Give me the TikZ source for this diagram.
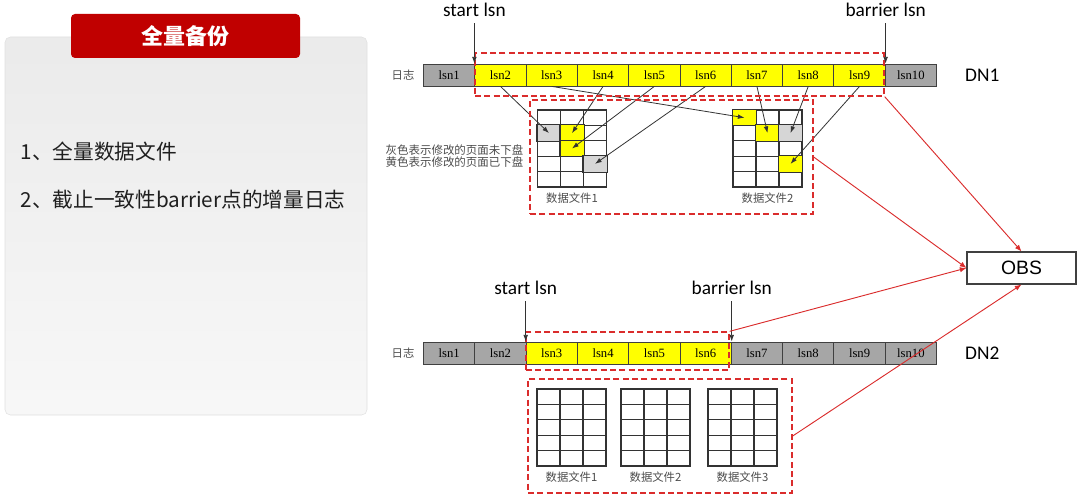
\documentclass[tikz,border=0pt]{standalone}
\usepackage{fontspec}
\setmainfont{Carlito}
\newfontfamily\cjk{Noto Sans CJK SC}
\newfontfamily\lsnfont{Liberation Serif}
\newfontfamily\obsfont{Liberation Sans}
\usetikzlibrary{positioning, arrows.meta, fit, calc}
\definecolor{TitleRed}{HTML}{C00000}
\definecolor{SelRed}{HTML}{DA2C2C}
\definecolor{LogGray}{HTML}{A6A6A6}
\definecolor{PageGray}{HTML}{D6D6D6}
\definecolor{LogYellow}{HTML}{FFFF00}

\begin{document}
\begin{tikzpicture}[x=0.75pt, y=-0.75pt,
  lsncell/.style={draw=black!75, line width=0.6pt, minimum width=38.5pt, minimum height=16.5pt,
    inner sep=0pt, font=\lsnfont\fontsize{9.5}{10}\selectfont},
  pagecell/.style={draw=black!80, line width=0.8pt, fill=white, minimum width=17.25pt,
    minimum height=11.55pt, inner sep=0pt},
  selbox/.style={draw=SelRed, line width=1pt, dash pattern=on 4.5pt off 2.5pt, inner sep=0pt},
  toobs/.style={draw=SelRed, line width=0.7pt, -{Latex[length=5pt, width=4pt]}},
  tocell/.style={draw=black!80, line width=0.6pt, -{Latex[length=5pt, width=3.5pt]}},
  tagtext/.style={font=\fontsize{14.5}{16}\selectfont, inner sep=1pt},
  smallcjk/.style={font=\cjk\fontsize{8.5}{9.5}\selectfont, text=black!70},
]
\useasboundingbox (0,0) rectangle (1080,495);

% 左侧说明
\draw[rounded corners=4pt, top color=black!8, bottom color=black!3, draw=black!12]
  (5,37) rectangle (367,415);
\node[fill=TitleRed, rounded corners=3pt, minimum width=171.75pt, minimum height=33pt,
  text=white, font=\cjk\bfseries\fontsize{16.5}{18}\selectfont] (title) at (185.5,36) {全量备份};
\node[anchor=west, font=\cjk\fontsize{15.5}{17}\selectfont, text=black!88] (item1) at (16,152)
  {1、全量数据文件};
\node[anchor=west, font=\cjk\fontsize{15.5}{17}\selectfont, text=black!88] (item2) at (16,200)
  {2、截止一致性barrier点的增量日志};

% DN1 日志
\foreach \i/\c in {1/LogGray, 2/LogYellow, 3/LogYellow, 4/LogYellow, 5/LogYellow,
                   6/LogYellow, 7/LogYellow, 8/LogYellow, 9/LogYellow, 10/LogGray}
  \node[lsncell, fill=\c] (t\i) at ({423.5+(\i-0.5)*51.3},75) {lsn\i};
\node[smallcjk, left=3pt of t1] (tlog) {日志};
\node[tagtext, right=20pt of t10] (dn1) {DN1};

% DN2 日志
\foreach \i/\c in {1/LogGray, 2/LogGray, 3/LogYellow, 4/LogYellow, 5/LogYellow,
                   6/LogYellow, 7/LogGray, 8/LogGray, 9/LogGray, 10/LogGray}
  \node[lsncell, fill=\c] (b\i) at ({423.5+(\i-0.5)*51.3},353) {lsn\i};
\node[smallcjk, left=3pt of b1] (blog) {日志};
\node[tagtext, right=20pt of b10] (dn2) {DN2};

% 数据文件页面
\foreach \g/\gx/\gy in {a/537.5/110, b/733/110, c/537/389, d/621/389, e/708/389}
  \foreach \c in {0,1,2}
    \foreach \r in {0,...,4}
      \node[pagecell] (\g-\c-\r) at ({\gx+(\c+0.5)*23},{\gy+(\r+0.5)*15.4}) {};
\foreach \n/\c in {a-0-1/PageGray, a-1-1/LogYellow, a-1-2/LogYellow, a-2-3/PageGray,
                   b-0-0/LogYellow, b-1-1/LogYellow, b-2-1/PageGray, b-2-3/LogYellow}
  \filldraw[fill=\c, draw=black!80, line width=0.8pt] (\n.south west) rectangle (\n.north east);
\foreach \g/\k in {a/1, b/2, c/1, d/2, e/3}
  \node[smallcjk] (f\g) at ($(\g-1-4.south)+(0,11)$) {数据文件\k};
\node[smallcjk, align=right, anchor=east, font=\cjk\fontsize{8.6}{9}\selectfont] (legend)
  at (528,156) {灰色表示修改的页面未下盘\\黄色表示修改的页面已下盘};

% 页面修改
\draw[tocell] (t2.south) -- (a-0-1.center);
\draw[tocell] (t3.south) -- (b-0-0.center);
\draw[tocell] (t4.south) -- (a-1-1.center);
\draw[tocell] (t5.south) -- (a-1-2.center);
\draw[tocell] (t6.south) -- (a-2-3.center);
\draw[tocell] (t7.south) -- (b-1-1.center);
\draw[tocell] (t8.south) -- (b-2-1.center);
\draw[tocell] (t9.south) -- (b-2-3.center);

% 虚线框
\node[selbox, fit={(475,53) (884,96)}] (topsel) {};
\node[selbox, fit={(530,100) (813,214)}] (topfiles) {};
\node[selbox, fit={(526,332) (729,370)}] (botsel) {};
\node[selbox, fit={(528,379) (792,493)}] (botfiles) {};

% start / barrier
\node[tagtext] (tstart) at ($(t2.north west)+(0,-54)$) {start lsn};
\node[tagtext] (tbar) at ($(t9.north east)+(0,-54)$) {barrier lsn};
\node[tagtext] (bstart) at ($(b3.north west)+(0,-54)$) {start lsn};
\node[tagtext] (bbar) at ($(b6.north east)+(0,-54)$) {barrier lsn};
\draw[tocell, shorten <=4pt] (tstart) -- (t2.north west);
\draw[tocell, shorten <=4pt] (tbar) -- (t9.north east);
\draw[tocell, shorten <=4pt] (bstart) -- (b3.north west);
\draw[tocell, shorten <=4pt] (bbar) -- (b6.north east);

% OBS
\node[draw=black!75, line width=0.8pt, minimum width=81.75pt, minimum height=24pt,
  font=\obsfont\fontsize{14.5}{16}\selectfont] (obs) at (1021.5,268) {OBS};
\draw[toobs] (topsel.south east) -- (obs.north);
\draw[toobs] (topfiles.east) -- (obs.west);
\draw[toobs] (botsel.north east) -- (obs.west);
\draw[toobs] (botfiles.east) -- (obs.south);
\end{tikzpicture}
\end{document}
